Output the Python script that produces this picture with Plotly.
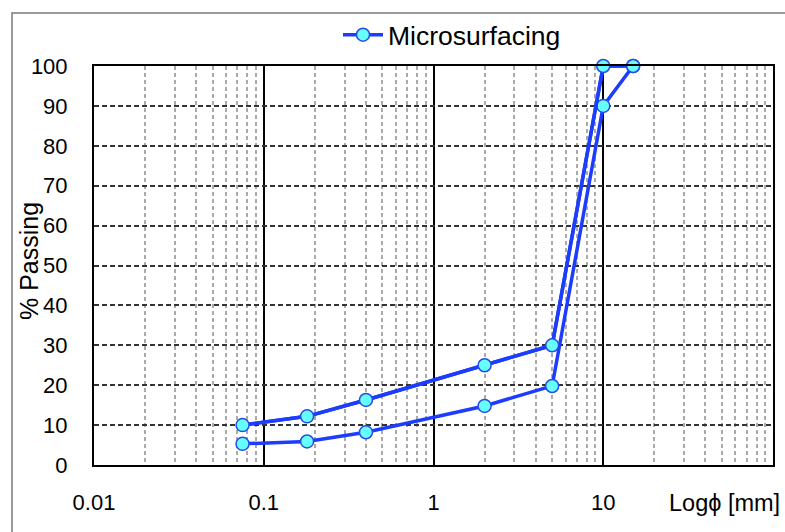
import plotly.graph_objects as go

# Sieve sizes [mm]
sizes = [0.075, 0.18, 0.4, 2, 5, 10, 15]
# Grading envelope (% passing)
lower_limit = [5.3, 5.9, 8.2, 14.8, 19.8, 90, 100]
upper_limit = [10, 12.2, 16.3, 25, 30, 100, 100]
series_name = "Microsurfacing"
x_tick_vals = [0.01, 0.1, 1, 10, 100]
x_tick_text = ["0.01", "0.1", "1", "10", ""]

FONT = "Liberation Sans, Arial, sans-serif"
LINE_COLOR = "#1c3cff"
MARKER_FILL = "#66ffff"
MARKER_EDGE = "#2a4ae8"

W, H = 785, 532
L, R, T, B = 94, 12, 66, 67
pw, ph = W - L - R, H - T - B


def px_x(px):
    return (px - L) / pw


def px_y(py):
    return (H - B - py) / ph


fig = go.Figure()
for vals, show in [(lower_limit, False), (upper_limit, True)]:
    # line (clipped to plot area, like the original)
    fig.add_trace(go.Scatter(
        x=sizes, y=vals, mode="lines", name=series_name,
        showlegend=False, cliponaxis=True, hoverinfo="skip",
        line=dict(color=LINE_COLOR, width=3.5),
    ))
    # markers (not clipped); the legend entry shows line + marker
    fig.add_trace(go.Scatter(
        x=sizes, y=vals, mode="lines+markers" if show else "markers",
        name=series_name, showlegend=show, cliponaxis=False,
        line=dict(color=LINE_COLOR, width=3.5),
        marker=dict(size=13, color=MARKER_FILL,
                    line=dict(color=MARKER_EDGE, width=1.5)),
    ))

fig.update_layout(
    width=W, height=H,
    margin=dict(l=L, r=R, t=T, b=B, autoexpand=False),
    paper_bgcolor="white", plot_bgcolor="white",
    font=dict(family=FONT, size=22, color="black"),
    showlegend=True,
    legend=dict(
        orientation="h", x=px_x(338), y=px_y(35), xanchor="left", yanchor="middle",
        font=dict(size=26.5, family=FONT), bgcolor="rgba(0,0,0,0)",
        itemwidth=40,
    ),
    xaxis=dict(
        type="log", range=[-2, 2], automargin=False,
        tickmode="array", tickvals=x_tick_vals, ticktext=x_tick_text,
        showgrid=True, gridcolor="black", gridwidth=1.5,
        minor=dict(dtick="D1", showgrid=True, gridcolor="#aaaaaa",
                   gridwidth=1.5, griddash="4px,3px", ticks=""),
        showline=True, mirror=True, linecolor="black", linewidth=2,
        ticks="outside", ticklen=17, tickcolor="rgba(0,0,0,0)", zeroline=False,
        tickfont=dict(size=22),
    ),
    yaxis=dict(
        range=[0, 100], dtick=10, tick0=0, automargin=False,
        showgrid=True, gridcolor="#333333", gridwidth=1.5, griddash="5px,3px",
        showline=True, mirror=True, linecolor="black", linewidth=2,
        ticks="outside", ticklen=20, tickcolor="rgba(0,0,0,0)", zeroline=False,
        tickfont=dict(size=22),
    ),
    annotations=[
        dict(text="% Passing", xref="paper", yref="paper",
             x=px_x(29), y=px_y(261), textangle=-90, showarrow=False,
             xanchor="center", yanchor="middle", font=dict(size=25)),
        dict(text="Logϕ [mm]", xref="paper", yref="paper",
             x=px_x(782), y=px_y(503), showarrow=False,
             xanchor="right", yanchor="middle", font=dict(size=23.5)),
    ],
    shapes=[
        dict(type="rect", xref="paper", yref="paper",
             x0=px_x(12), y0=px_y(560), x1=px_x(820), y1=px_y(13),
             line=dict(color="#7a7a7a", width=1.5), layer="below"),
    ],
)

fig.write_html("out.html")
